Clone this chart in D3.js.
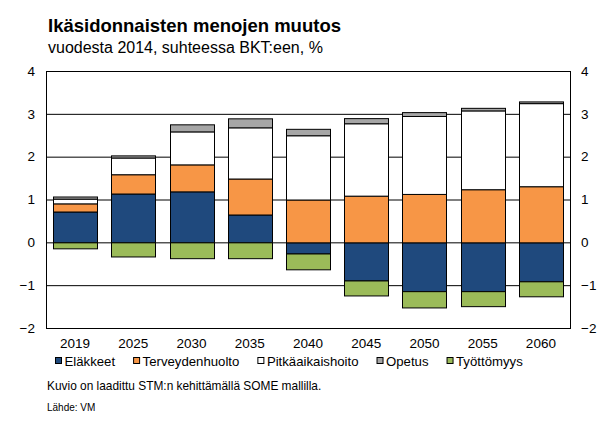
<!DOCTYPE html>
<html>
<head>
<meta charset="utf-8">
<script src="https://cdn.jsdelivr.net/npm/d3@7"></script>
<style>
  body { margin: 0; background: #fff; }
  svg { font-family: "Liberation Sans", Arial, sans-serif; }
</style>
</head>
<body>
<div id="kuvio"></div>
<script>
const vuodet = ["2019", "2025", "2030", "2035", "2040", "2045", "2050", "2055", "2060"];
const sarjat = ["Eläkkeet", "Terveydenhuolto", "Pitkäaikaishoito", "Opetus", "Työttömyys"];
const elakkeet = [0.72, 1.14, 1.19, 0.65, -0.26, -0.89, -1.14, -1.14, -0.91];
const terveys = [0.19, 0.45, 0.63, 0.84, 1.00, 1.09, 1.13, 1.24, 1.31];
const pitkaaikais = [0.11, 0.39, 0.77, 1.195, 1.50, 1.69, 1.82, 1.84, 1.94];
const opetus = [0.05, 0.05, 0.165, 0.21, 0.15, 0.12, 0.09, 0.06, 0.04];
const tyottomyys = [-0.14, -0.33, -0.37, -0.37, -0.37, -0.35, -0.38, -0.35, -0.35];
const yTicks = [-2, -1, 0, 1, 2, 3, 4];
const varit = ["#1f497d", "#f79646", "#ffffff", "#a6a6a6", "#9bbb59"];

const leveys = 612, korkeus = 433;
const margin = { top: 71, right: 42, bottom: 105, left: 46 };

const svg = d3.select("#kuvio").append("svg")
    .attr("width", leveys)
    .attr("height", korkeus);

// taulukko d3.stackia varten
const taulu = vuodet.map((v, i) => ({
    vuosi: v,
    "Eläkkeet": elakkeet[i],
    "Terveydenhuolto": terveys[i],
    "Pitkäaikaishoito": pitkaaikais[i],
    "Opetus": opetus[i],
    "Työttömyys": tyottomyys[i]
}));

const pinot = d3.stack()
    .keys(sarjat)
    .offset(d3.stackOffsetDiverging)(taulu);

const x = d3.scaleBand()
    .domain(vuodet)
    .range([margin.left, leveys - margin.right])
    .paddingInner(0.245)
    .paddingOuter(0.1225);

const y = d3.scaleLinear()
    .domain([-2, 4])
    .range([korkeus - margin.bottom, margin.top]);

const vari = d3.scaleOrdinal().domain(sarjat).range(varit);

// otsikot
svg.append("text")
    .attr("x", 48).attr("y", 32)
    .style("font-size", "18.5px")
    .style("font-weight", "bold")
    .text("Ikäsidonnaisten menojen muutos");

svg.append("text")
    .attr("x", 48).attr("y", 53)
    .style("font-size", "16px")
    .text("vuodesta 2014, suhteessa BKT:een, %");

// vaakaviivat
svg.append("g")
    .selectAll("line")
    .data(yTicks.filter(t => t > -2 && t < 4))
    .join("line")
    .attr("x1", margin.left)
    .attr("x2", leveys - margin.right)
    .attr("y1", d => y(d) + 0.5)
    .attr("y2", d => y(d) + 0.5)
    .attr("stroke", "#000")
    .attr("stroke-width", 1);

// pylväät
svg.append("g")
    .selectAll("g")
    .data(pinot)
    .join("g")
    .attr("fill", d => vari(d.key))
    .selectAll("rect")
    .data(d => d)
    .join("rect")
    .attr("x", d => Math.round(x(d.data.vuosi)) + 0.5)
    .attr("y", d => y(d[1]) + 0.5)
    .attr("width", Math.round(x.bandwidth()))
    .attr("height", d => Math.max(0, y(d[0]) - y(d[1])))
    .attr("stroke", "#000")
    .attr("stroke-width", 1);

// kehys
svg.append("rect")
    .attr("x", margin.left + 0.5)
    .attr("y", margin.top + 0.5)
    .attr("width", leveys - margin.left - margin.right)
    .attr("height", korkeus - margin.top - margin.bottom)
    .attr("fill", "none")
    .attr("stroke", "#000")
    .attr("stroke-width", 1);

// y-akselit molemmin puolin
const vasen = svg.append("g")
    .attr("transform", `translate(${margin.left},0)`)
    .call(d3.axisLeft(y).tickValues(yTicks).tickSize(0).tickPadding(11).tickFormat(d3.format("d")));
const oikea = svg.append("g")
    .attr("transform", `translate(${leveys - margin.right},0)`)
    .call(d3.axisRight(y).tickValues(yTicks).tickSize(0).tickPadding(11).tickFormat(d3.format("d")));
[vasen, oikea].forEach(a => {
    a.select(".domain").remove();
    a.selectAll("text")
        .style("font-family", "'Liberation Sans', Arial, sans-serif")
        .style("font-size", "13.5px")
        .attr("fill", "#000");
});

// x-akseli
const ala = svg.append("g")
    .attr("transform", `translate(0,${korkeus - margin.bottom})`)
    .call(d3.axisBottom(x).tickSize(0).tickPadding(10));
ala.select(".domain").remove();
ala.selectAll("text")
    .style("font-family", "'Liberation Sans', Arial, sans-serif")
    .style("font-size", "13.5px")
    .attr("fill", "#000");

// selite
let lx = 55;
const ly = 365.5;
sarjat.forEach(s => {
    svg.append("rect")
        .attr("x", lx + 0.5).attr("y", ly - 8)
        .attr("width", 6).attr("height", 6)
        .attr("fill", vari(s))
        .attr("stroke", "#000")
        .attr("stroke-width", 1);
    const t = svg.append("text")
        .attr("x", lx + 9.5).attr("y", ly)
        .style("font-size", "13.2px")
        .text(s);
    lx += 9.5 + t.node().getComputedTextLength() + 18;
});

// alaviitteet
svg.append("text")
    .attr("x", 47).attr("y", 390)
    .style("font-size", "11.9px")
    .text("Kuvio on laadittu STM:n kehittämällä SOME mallilla.");

svg.append("text")
    .attr("x", 47).attr("y", 411)
    .style("font-size", "10px")
    .text("Lähde: VM");
</script>
</body>
</html>
